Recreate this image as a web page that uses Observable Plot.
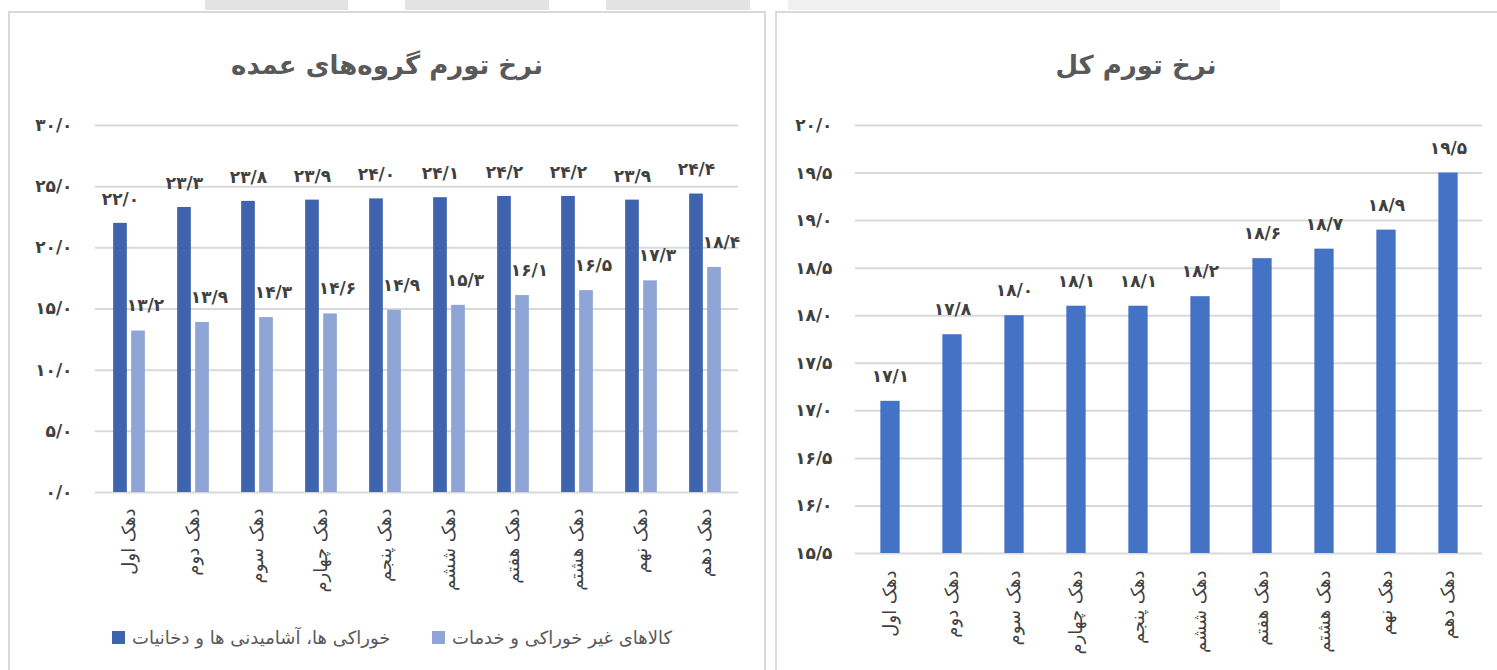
<!DOCTYPE html>
<html><head><meta charset="utf-8">
<script src="https://cdn.jsdelivr.net/npm/d3@7"></script>
<script src="https://cdn.jsdelivr.net/npm/@observablehq/plot@0.6"></script>
<style>
body{margin:0;background:#fff;width:1497px;height:670px;overflow:hidden;position:relative;font-family:"DejaVu Sans",sans-serif;}
.strip{position:absolute;top:0;height:10px;}
.panel{position:absolute;top:11px;height:700px;border:2px solid #d9d9d9;box-sizing:border-box;}
.title{position:absolute;top:50px;line-height:30px;font-weight:bold;font-size:26px;color:#595959;text-align:center;direction:rtl;}
.chart{position:absolute;}
.legend{position:absolute;top:627px;font-size:18px;color:#595959;display:flex;align-items:center;white-space:nowrap;}
.sw{width:13px;height:13px;display:inline-block;margin-right:7px;}
</style></head><body>
<div class="strip" style="left:205px;width:143px;background:#e3e3e3"></div>
<div class="strip" style="left:405px;width:144px;background:#e3e3e3"></div>
<div class="strip" style="left:606px;width:144px;background:#e3e3e3"></div>
<div class="strip" style="left:788px;width:492px;background:#f0f0f0"></div>
<div class="panel" style="left:8px;width:758px"></div>
<div class="panel" style="left:775px;width:740px"></div>
<div class="title" id="t1" style="left:8px;width:758px"></div>
<div class="title" id="t2" style="left:775px;width:722px"></div>
<div class="chart" id="c1" style="left:10px;top:100px"></div>
<div class="chart" id="c2" style="left:776px;top:100px"></div>
<div class="legend" id="l1" style="left:112px"></div>
<div class="legend" id="l2" style="left:432px"></div>
<script>
const deciles = ["دهک اول","دهک دوم","دهک سوم","دهک چهارم","دهک پنجم","دهک ششم","دهک هفتم","دهک هشتم","دهک نهم","دهک دهم"];
const foodValues = [22.0,23.3,23.8,23.9,24.0,24.1,24.2,24.2,23.9,24.4];
const nonFoodValues = [13.2,13.9,14.3,14.6,14.9,15.3,16.1,16.5,17.3,18.4];
const totalValues = [17.1,17.8,18.0,18.1,18.1,18.2,18.6,18.7,18.9,19.5];
const seriesNames = ["خوراکی ها، آشامیدنی ها و دخانیات","کالاهای غیر خوراکی و خدمات"];
const seriesColors = ["#3E64AF","#8FA5D6"];
const totalColor = "#4472C4";
const leftTicks = [0,5,10,15,20,25,30];
const rightTicks = [15.5,16,16.5,17,17.5,18,18.5,19,19.5,20];
const titleLeft = "نرخ تورم گروه‌های عمده";
const titleRight = "نرخ تورم کل";

const faDigits = "۰۱۲۳۴۵۶۷۸۹";
const fa = v => v.toFixed(1).replace(/\d/g, d => faDigits[d]).replace(".", "/");

document.getElementById("t1").textContent = titleLeft;
document.getElementById("t2").textContent = titleRight;
["l1","l2"].forEach((id,i) => {
  const el = document.getElementById(id);
  el.innerHTML = `<span class="sw" style="background:${seriesColors[i]}"></span><span>${seriesNames[i]}</span>`;
});

const food = deciles.map((c,i) => ({cat:c, v:foodValues[i]}));
const nonFood = deciles.map((c,i) => ({cat:c, v:nonFoodValues[i]}));
const total = deciles.map((c,i) => ({cat:c, v:totalValues[i]}));

const font = {fontFamily:"DejaVu Sans", background:"transparent", overflow:"visible"};

const left = Plot.plot({
  width:750, height:500, marginLeft:85, marginRight:22, marginTop:25, marginBottom:108,
  style:font,
  x:{domain:deciles, padding:0},
  y:{domain:[0,30]},
  marks:[
    Plot.ruleY(leftTicks, {stroke:"#d9d9d9", strokeWidth:2}),
    Plot.axisY(leftTicks, {tickSize:0, tickPadding:23, tickFormat:fa, fontSize:17, fontWeight:"bold", color:"#404040", label:null}),
    Plot.axisX({tickSize:0, tickRotate:-90, tickPadding:16, fontSize:18, color:"#404040", label:null}),
    Plot.barY(food, {x:"cat", y:"v", fill:seriesColors[0], insetLeft:25.15, insetRight:25.15, dx:-9}),
    Plot.barY(nonFood, {x:"cat", y:"v", fill:seriesColors[1], insetLeft:25.15, insetRight:25.15, dx:9}),
    Plot.text(food, {x:"cat", y:"v", text:d=>fa(d.v), dx:-9, dy:-24, fontSize:17, fontWeight:"bold", fill:"#404040"}),
    Plot.text(nonFood, {x:"cat", y:"v", text:d=>fa(d.v), dx:16, dy:-25, fontSize:17, fontWeight:"bold", fill:"#404040"})
  ]
});
document.getElementById("c1").append(left);

const right = Plot.plot({
  width:720, height:560, marginLeft:79, marginRight:14, marginTop:25, marginBottom:107,
  style:font,
  x:{domain:deciles, padding:0},
  y:{domain:[15.5,20]},
  marks:[
    Plot.ruleY(rightTicks, {stroke:"#d9d9d9", strokeWidth:2}),
    Plot.axisY(rightTicks, {tickSize:0, tickPadding:23, tickFormat:fa, fontSize:17, fontWeight:"bold", color:"#404040", label:null}),
    Plot.axisX({tickSize:0, tickRotate:-90, tickPadding:17, fontSize:18, color:"#404040", label:null}),
    Plot.barY(total, {x:"cat", y1:15.5, y2:"v", fill:totalColor, insetLeft:21.35, insetRight:21.35}),
    Plot.text(total, {x:"cat", y:"v", text:d=>fa(d.v), dy:-25, fontSize:17, fontWeight:"bold", fill:"#404040"})
  ]
});
document.getElementById("c2").append(right);
</script>
</body></html>
